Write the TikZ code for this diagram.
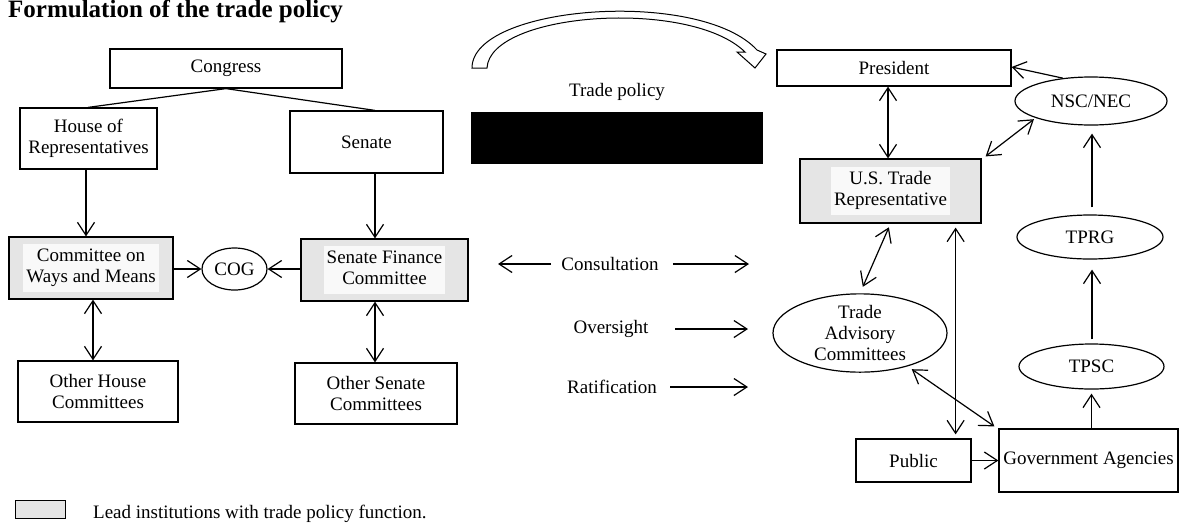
\documentclass[tikz,border=0pt]{standalone}
\usepackage{fontspec}
\setmainfont{Liberation Serif}
\usetikzlibrary{arrows.meta,shapes.geometric,calc}
\newcommand{\leadtext}[1]{\colorbox{gray!5}{\begin{tabular}{@{}c@{}}#1\end{tabular}}}
\begin{document}
\begin{tikzpicture}[x=1pt,y=-1pt,
  every node/.style={font=\fontsize{19}{21}\selectfont, inner sep=0pt},
  box/.style={draw, line width=1.2pt, rectangle, align=center},
  lead/.style={box, fill=gray!20},
  oval/.style={draw, line width=1.2pt, ellipse, align=center, inner sep=0pt},
  barb/.tip={Straight Barb[length=13pt,width=17pt,line width=1.2pt]},
  conn/.style={line width=1.2pt, -barb},
  dconn/.style={line width=1.2pt, barb-barb},
  plain/.style={line width=1.2pt},
]
\useasboundingbox (0,0) rectangle (1179,523);

% title
\node[anchor=base west, font=\fontsize{25}{29}\selectfont\bfseries] (title) at (8,17.5) {Formulation of the trade policy};

% left side: Congress
\node[box, minimum width=232pt, minimum height=39pt] (congress) at (226,68.5) {Congress};
\node[box, minimum width=137pt, minimum height=61pt] (house) at (88.5,138.5) {House of\\Representatives};
\node[box, minimum width=153pt, minimum height=62pt] (senate) at (366.5,142) {Senate};
\node[lead, minimum width=164pt, minimum height=62pt] (cwm) at (91,268) {\leadtext{Committee on\\Ways and Means}};
\node[oval, minimum width=65pt, minimum height=42pt] (cog) at (234.5,269) {COG};
\node[lead, minimum width=167pt, minimum height=62pt] (sfc) at (384.5,270) {\leadtext{Senate Finance\\Committee}};
\node[box, minimum width=160pt, minimum height=61pt] (ohc) at (98,391.5) {Other House\\Committees};
\node[box, minimum width=162pt, minimum height=61pt] (osc) at (376,393.5) {Other Senate\\Committees};

\draw[plain] (congress.south) -- ([xshift=-0.5pt]house.north);
\draw[plain] (congress.south) -- ([xshift=8.5pt]senate.north);
\draw[conn] ([xshift=-2.5pt]house.south) -- ([xshift=-2.5pt]house.south |- cwm.north);
\draw[conn] ([xshift=8.5pt]senate.south) -- ([xshift=8.5pt]senate.south |- sfc.north);
\draw[conn] (cwm.east |- cog.west) -- (cog.west);
\draw[conn] (sfc.west |- cog.east) -- (cog.east);
\draw[dconn] ([xshift=2pt]cwm.south) -- ([xshift=2pt]cwm.south |- ohc.north);
\draw[dconn] ([xshift=-1pt]osc.north |- sfc.south) -- ([xshift=-1pt]osc.north);

% middle
\draw[line width=1pt, fill=white] (472,68) .. controls (472,5) and (700,-12) .. (757,50) -- (766,54) -- (755,68) -- (737,52) -- (745,52) .. controls (690,-2) and (490,12) .. (487,68) -- cycle;
\node (tp) at (617,92) {Trade policy};
\fill (471,112) rectangle (763,164);

\node (cons) at (610,264) {Consultation};
\coordinate (consL) at (498,264);
\coordinate (consR) at (749,264);
\draw[conn] ([xshift=-10pt]cons.west) -- (consL);
\draw[conn] ([xshift=14pt]cons.east) -- (consR);
\node (over) at (611,329) {Oversight};
\coordinate (overL) at (675,329);
\coordinate (overR) at (748,329);
\draw[conn] (overL) -- (overR);
\node (rat) at (612,387) {Ratification};
\coordinate (ratR) at (748,387);
\draw[conn] ([xshift=13pt]rat.east) -- (ratR);

% right side: executive
\node[box, minimum width=234pt, minimum height=36pt] (pres) at (894,68) {President};
\node[oval, minimum width=152pt, minimum height=48pt] (nsc) at (1091,101) {NSC/NEC};
\node[lead, minimum width=181pt, minimum height=64pt] (ustr) at (890.5,191) {\leadtext{U.S. Trade\\Representative}};
\node[oval, minimum width=146pt, minimum height=44pt] (tprg) at (1090,237) {TPRG};
\node[oval, minimum width=174pt, minimum height=77pt] (tac) at (860,333) {Trade\\Advisory\\Committees};
\node[oval, minimum width=145pt, minimum height=45pt] (tpsc) at (1091.5,366.5) {TPSC};
\node[box, minimum width=115pt, minimum height=43pt] (public) at (913.5,460.5) {Public};
\node[box, minimum width=179pt, minimum height=63pt] (ga) at (1088.5,460.5) {Government Agencies};

\draw[dconn] ([xshift=-2.5pt]ustr.north) -- ([xshift=-2.5pt]ustr.north |- pres.south);
\draw[conn] (nsc.141) -- ([yshift=1pt]pres.east);
\draw[dconn, shorten <=2pt] (nsc.197) -- ([xshift=4pt,yshift=2pt]ustr.north east);
\draw[conn, shorten <=7pt, shorten >=8pt] ([xshift=2pt]tprg.north) -- ([xshift=1pt]nsc.south);
\draw[dconn, shorten <=4pt, shorten >=7pt] (ustr.south) -- (tac.north);
\draw[dconn, shorten <=4pt, shorten >=4pt] ([xshift=-26pt]ustr.south east) -- ([xshift=-26pt]ustr.south east |- public.north);
\draw[dconn, shorten <=5pt] (tac.-35) -- ([xshift=-4pt,yshift=2pt]ga.north west);
\draw[conn] (public.east) -- (ga.west);
\draw[conn, shorten >=4pt] (tpsc.south |- ga.north) -- (tpsc.south);
\draw[conn, shorten <=4pt, shorten >=10pt] ([xshift=0.5pt]tpsc.north) -- ([xshift=2pt]tprg.south);

% legend
\node[draw, line width=1pt, fill=gray!20, minimum width=50pt, minimum height=18pt] (legbox) at (40,509) {};
\node[anchor=base west] (legtext) at (93,518) {Lead institutions with trade policy function.};
\end{tikzpicture}
\end{document}
